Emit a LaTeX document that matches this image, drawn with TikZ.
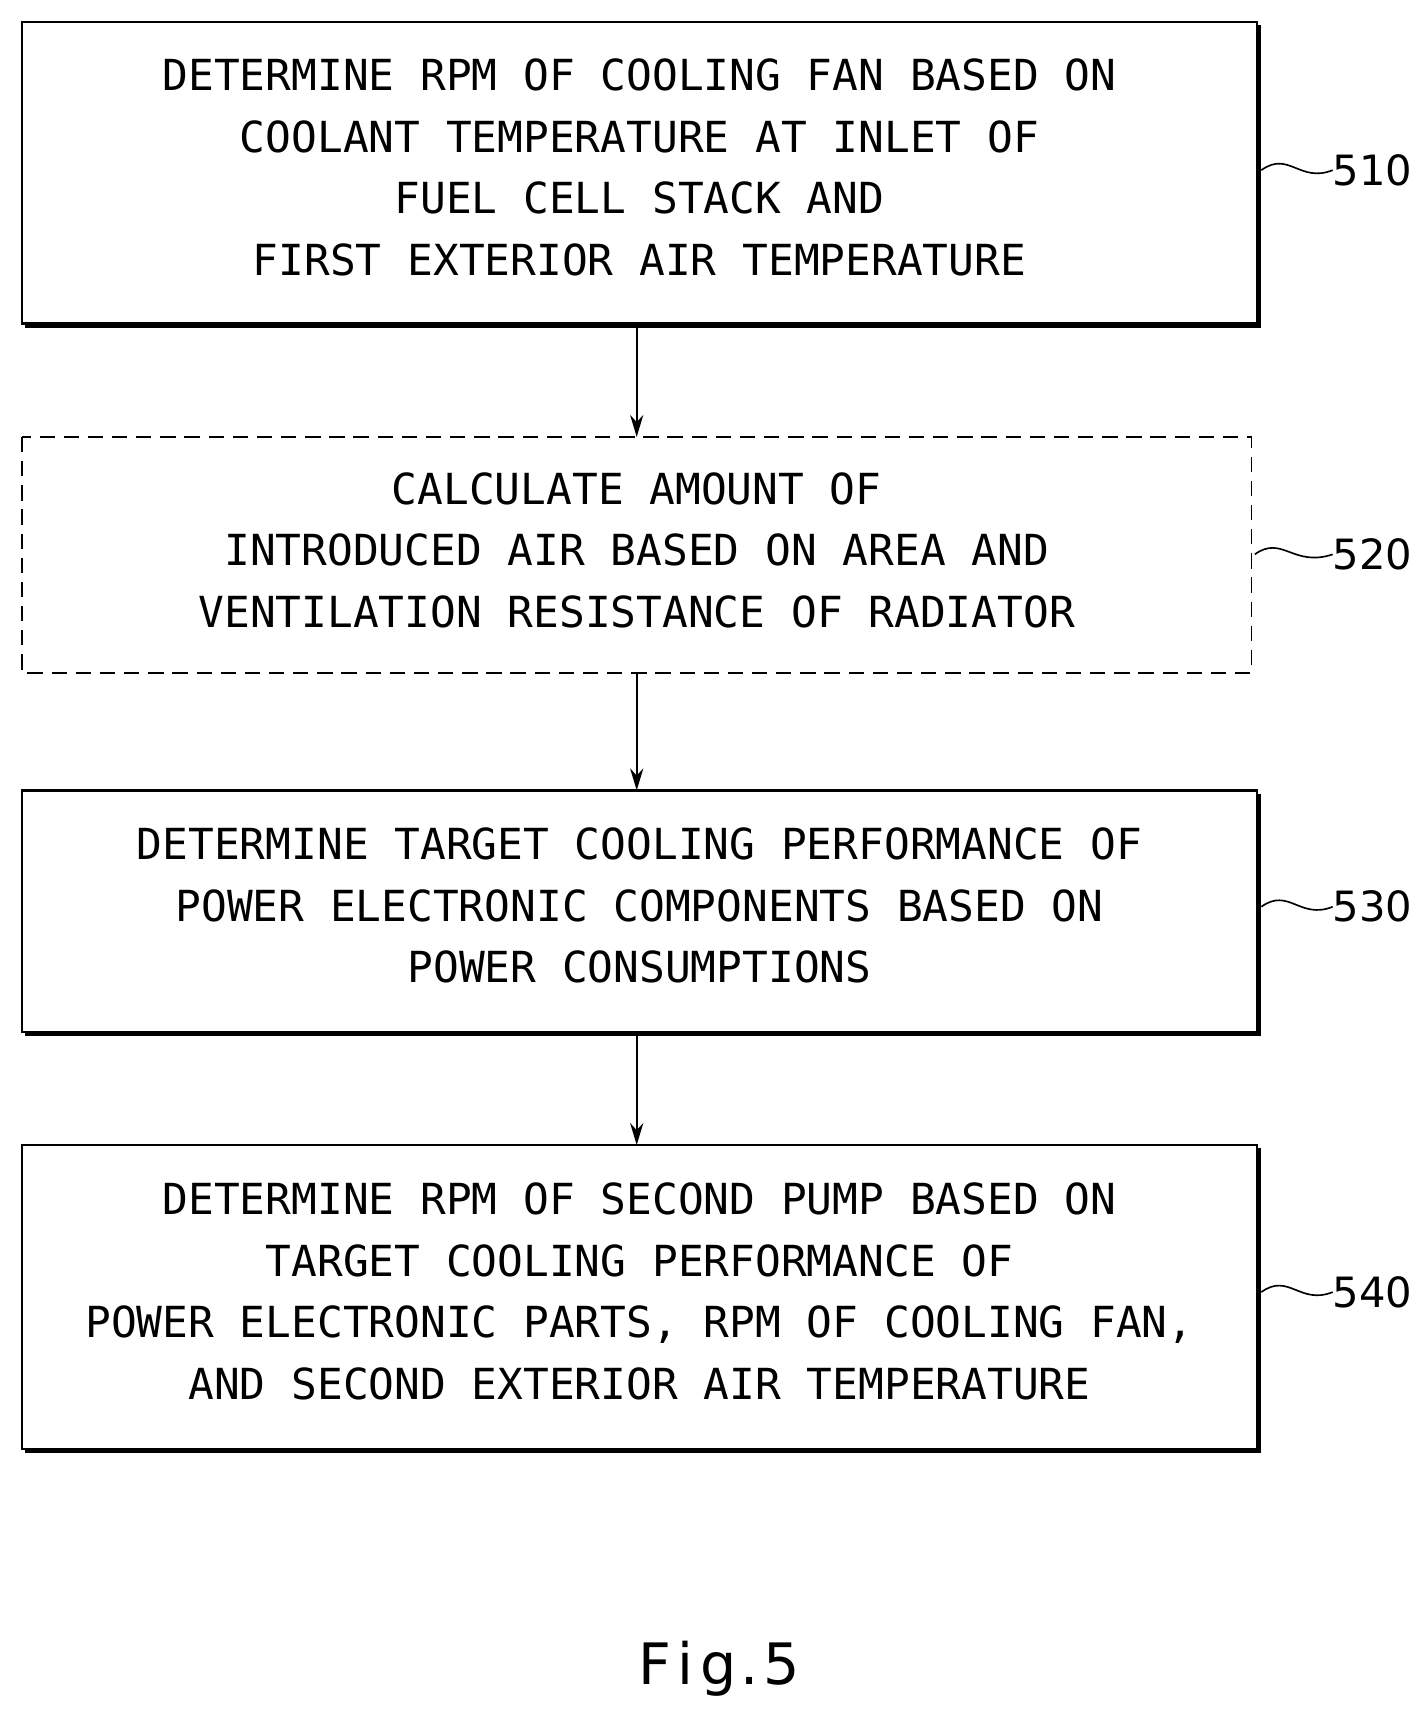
\documentclass[tikz,border=0pt]{standalone}
\usepackage{fontspec}
\setmonofont{DejaVu Sans Mono}
\setsansfont{DejaVu Sans}
\usetikzlibrary{arrows.meta}
\tikzset{
  txt/.style={font=\ttfamily\fontsize{39}{56}\selectfont, align=center, inner sep=0},
  lbl/.style={font=\sffamily\fontsize{38}{46}\selectfont, inner sep=0, anchor=west},
  arr/.style={line width=2pt,-{Stealth[length=20pt,width=12pt]}},
  squig/.style={line width=1.5pt},
}
\newcommand{\shbox}[5]{% name, x1,y1,x2,y2
  \draw[line width=2.5pt] (#2,#3) rectangle (#4,#5);
  \draw[line width=4pt] (#2+3,#5+2) -- (#4+2,#5+2) -- (#4+2,#3+3);
  \coordinate (#1) at ({(#2+#4)/2},{(#3+#5)/2-5});
  \coordinate (#1t) at (580,#3);
  \coordinate (#1b) at (580,#5+3);
}
\begin{document}
\begin{tikzpicture}[x=1pt,y=-1pt]
\useasboundingbox (0,0) rectangle (1300,1565);
\shbox{b1}{20}{20}{1145}{295}
\draw[line width=1.5pt,dash pattern=on 14pt off 8pt] (20,398) rectangle (1140,613);
\coordinate (b2) at (580,501); \coordinate (b2t) at (580,398); \coordinate (b2b) at (580,613);
\shbox{b3}{20}{720}{1145}{940}
\shbox{b4}{20}{1043}{1145}{1320}
\node[txt] at (b1) {DETERMINE RPM OF COOLING FAN BASED ON\\COOLANT TEMPERATURE AT INLET OF\\FUEL CELL STACK AND\\FIRST EXTERIOR AIR TEMPERATURE};
\node[txt] at (b2) {CALCULATE AMOUNT OF\\INTRODUCED AIR BASED ON AREA AND\\VENTILATION RESISTANCE OF RADIATOR};
\node[txt] at (b3) {DETERMINE TARGET COOLING PERFORMANCE OF\\POWER ELECTRONIC COMPONENTS BASED ON\\POWER CONSUMPTIONS};
\node[txt] at (b4) {DETERMINE RPM OF SECOND PUMP BASED ON\\TARGET COOLING PERFORMANCE OF\\POWER ELECTRONIC PARTS, RPM OF COOLING FAN,\\AND SECOND EXTERIOR AIR TEMPERATURE};
\draw[arr] (b1b) -- (b2t);
\draw[arr] (b2b) -- (b3t);
\draw[arr] (b3b) -- (b4t);
\foreach \y/\t/\x in {155/510/1149,505/520/1143,826/530/1149,1177/540/1149}{
  \node[lbl] (l\t) at (1214,\y) {\t};
  \draw[squig] (\x,\y) .. controls (\x+25,\y-18) and (\x+35,\y+12) .. (l\t.west);
}
\node[font=\sffamily\fontsize{52}{60}\selectfont] (fig) at (655,1520) {F\kern6pt i\kern6pt g\kern4pt .\kern4pt 5};
\end{tikzpicture}
\end{document}
